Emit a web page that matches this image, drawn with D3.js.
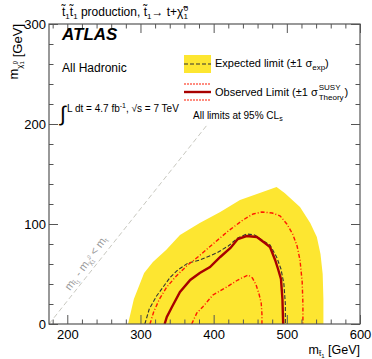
<!DOCTYPE html>
<meta charset="utf-8">
<head>
  <script src="https://d3js.org/d3.v7.min.js"></script>
  <style>
    body { margin: 0; background: #fff; }
    svg text { font-family: "Liberation Sans", Arial, sans-serif; }
    .tick line { stroke: #555; }
    .domain { display: none; }
  </style>
</head>
<body>
<div id="chart"></div>
<script>
  // stop mass / LSP mass points [m_stop, m_lsp] in GeV
  var expBand = [[283,0],[291,25],[305,51],[317,62],[335,74],[354,89],[381,101],[409,112],[436,124],[463,131],[486,137],[497,131],[518,117],[532,101],[541,87],[546,70],[549,50],[550,25],[550,0]];
  var expLine = [[306,0],[312,15],[322,28],[331,37],[341,47],[351,54],[365,61],[381,64],[404,71],[420,78],[433,86],[445,90],[456,89],[466,84],[477,79],[486,67],[492,55],[496,40],[498,20],[498,0]];
  var obsLine = [[333,0],[336,7],[343,17],[354,32],[368,44],[381,51],[395,57],[409,67],[423,76],[433,85],[445,88],[459,87],[470,81],[477,77],[484,64],[488,55],[492,45],[494,25],[495,0]];
  var obsMinus = [[370,0],[377,11],[385,17],[399,29],[418,37],[433,44],[447,49],[453,46],[458,39],[462,30],[465,21],[466,10],[466,0]];
  var obsPlus = [[313,0],[318,12],[326,25],[336,37],[349,48],[363,58],[380,68],[399,80],[420,93],[440,104],[454,110],[466,112],[480,111],[491,108],[500,100],[508,90],[514,78],[518,64],[521,42],[522,20],[522,0]];
  var kinLine = [[175,0],[391,199]];

  var xTicks = [200, 300, 400, 500, 600];
  var yTicks = [0, 100, 200, 300];
  var xMinor = d3.range(180, 601, 20).filter(function (v) { return v % 100 != 0; });
  var yMinor = d3.range(20, 300, 20).filter(function (v) { return v % 100 != 0; });

  var W = 372, H = 359;
  var margin = { top: 24, right: 12, bottom: 35, left: 49 };

  var svg = d3.select("#chart").append("svg")
    .attr("width", W).attr("height", H);

  var x = d3.scaleLinear().domain([175, 600]).range([margin.left, W - margin.right]);
  var y = d3.scaleLinear().domain([0, 300]).range([H - margin.bottom, margin.top]);

  svg.append("clipPath").attr("id", "frame")
    .append("rect")
    .attr("x", x(175)).attr("y", y(300))
    .attr("width", x(600) - x(175)).attr("height", y(0) - y(300));

  var line = d3.line().x(function (d) { return x(d[0]); }).y(function (d) { return y(d[1]); });

  var plot = svg.append("g").attr("clip-path", "url(#frame)");

  // expected +-1 sigma band
  plot.append("path").attr("d", line(expBand) + "Z").attr("fill", "#fde631");

  // kinematic limit
  plot.append("path").attr("d", line(kinLine))
    .attr("fill", "none").attr("stroke", "#c8c8c0").attr("stroke-width", 1)
    .attr("stroke-dasharray", "5,3");

  plot.append("path").attr("d", line(expLine))
    .attr("fill", "none").attr("stroke", "#333").attr("stroke-width", 1.1)
    .attr("stroke-dasharray", "4,2");

  [obsMinus, obsPlus].forEach(function (c) {
    plot.append("path").attr("d", line(c))
      .attr("fill", "none").attr("stroke", "#ff1a00").attr("stroke-width", 1.4)
      .attr("stroke-dasharray", "4,2,1,2");
  });

  plot.append("path").attr("d", line(obsLine))
    .attr("fill", "none").attr("stroke", "#a80000").attr("stroke-width", 2.4);

  // axes, ROOT style ticks inside the frame
  var fmt = d3.format("d");
  svg.append("g").attr("transform", "translate(0," + y(0) + ")")
    .call(d3.axisBottom(x).tickValues(xTicks).tickSize(-9).tickPadding(6).tickFormat(fmt));
  svg.append("g").attr("transform", "translate(0," + y(0) + ")")
    .call(d3.axisBottom(x).tickValues(xMinor).tickSize(-4.5).tickFormat(""));
  svg.append("g").attr("transform", "translate(0," + y(300) + ")")
    .call(d3.axisTop(x).tickValues(xTicks).tickSize(-9).tickFormat(""));
  svg.append("g").attr("transform", "translate(0," + y(300) + ")")
    .call(d3.axisTop(x).tickValues(xMinor).tickSize(-4.5).tickFormat(""));

  svg.append("g").attr("transform", "translate(" + x(175) + ",0)")
    .call(d3.axisLeft(y).tickValues(yTicks).tickSize(-9).tickPadding(3).tickFormat(fmt));
  svg.append("g").attr("transform", "translate(" + x(175) + ",0)")
    .call(d3.axisLeft(y).tickValues(yMinor).tickSize(-4.5).tickFormat(""));
  svg.append("g").attr("transform", "translate(" + x(600) + ",0)")
    .call(d3.axisRight(y).tickValues(yTicks).tickSize(-9).tickFormat(""));
  svg.append("g").attr("transform", "translate(" + x(600) + ",0)")
    .call(d3.axisRight(y).tickValues(yMinor).tickSize(-4.5).tickFormat(""));

  svg.selectAll(".tick text").attr("font-size", 13).attr("fill", "#000")
    .attr("font-family", "Liberation Sans, Arial, sans-serif");

  svg.append("rect")
    .attr("x", x(175)).attr("y", y(300))
    .attr("width", x(600) - x(175)).attr("height", y(0) - y(300))
    .attr("fill", "none").attr("stroke", "#555").attr("stroke-width", 1.2);

  // axis titles
  var xt = svg.append("text").attr("x", x(600)).attr("y", 354)
    .attr("text-anchor", "end").attr("font-size", 12.5);
  xt.append("tspan").text("m");
  xt.append("tspan").attr("font-size", 8).attr("dy", 2).text("t\u0303");
  xt.append("tspan").attr("font-size", 6).attr("dy", 1.5).text("1");
  xt.append("tspan").attr("dy", -3.5).text(" [GeV]");

  var yt = svg.append("text").attr("transform", "translate(18," + y(300) + ") rotate(-90)")
    .attr("text-anchor", "end").attr("font-size", 13);
  yt.append("tspan").text("m");
  yt.append("tspan").attr("font-size", 8).attr("dy", 4).text("\u03c7\u0303");
  yt.append("tspan").attr("font-size", 6).attr("dy", 2).text("1");
  yt.append("tspan").attr("font-size", 6).attr("dy", -7).attr("dx", -3).text("0");
  yt.append("tspan").attr("dy", 5).text(" [GeV]");

  // title
  var tt = svg.append("text").attr("x", 62).attr("y", 16).attr("font-size", 12);
  tt.append("tspan").text("t\u0303");
  tt.append("tspan").attr("font-size", 8).attr("dy", 3).text("1");
  tt.append("tspan").attr("dy", -3).text("t\u0303");
  tt.append("tspan").attr("font-size", 8).attr("dy", 3).text("1");
  tt.append("tspan").attr("dy", -3).text(" production, t\u0303");
  tt.append("tspan").attr("font-size", 8).attr("dy", 3).text("1");
  tt.append("tspan").attr("dy", -3).text("\u2192 t+\u03c7\u0303");
  tt.append("tspan").attr("font-size", 8).attr("dy", 3).text("1");
  tt.append("tspan").attr("font-size", 8).attr("dy", -8).attr("dx", -4).text("0");

  svg.append("text").attr("x", 62).attr("y", 40)
    .attr("font-size", 17).attr("font-weight", "bold").attr("font-style", "italic")
    .text("ATLAS");
  svg.append("text").attr("x", 62).attr("y", 72).attr("font-size", 12).text("All Hadronic");

  // lumi
  svg.append("text").attr("x", 60).attr("y", 121).attr("font-size", 21).text("\u222b");
  var lt = svg.append("text").attr("x", 67).attr("y", 112).attr("font-size", 10);
  lt.append("tspan").text("L dt = 4.7 fb");
  lt.append("tspan").attr("font-size", 7).attr("dy", -4).text("-1");
  lt.append("tspan").attr("dy", 4).text(", \u221as = 7 TeV");

  var cl = svg.append("text").attr("x", 193).attr("y", 119).attr("font-size", 10);
  cl.append("tspan").text("All limits at 95% CL");
  cl.append("tspan").attr("font-size", 7).attr("dy", 2).text("s");

  // legend
  svg.append("rect").attr("x", 184).attr("y", 55).attr("width", 27).attr("height", 18).attr("fill", "#fde631");
  svg.append("line").attr("x1", 184).attr("x2", 211).attr("y1", 64).attr("y2", 64)
    .attr("stroke", "#333").attr("stroke-width", 1.1).attr("stroke-dasharray", "4,2");
  var e1 = svg.append("text").attr("x", 215).attr("y", 67).attr("font-size", 11);
  e1.append("tspan").text("Expected limit (\u00b11 \u03c3");
  e1.append("tspan").attr("font-size", 8).attr("dy", 3).text("exp");
  e1.append("tspan").attr("dy", -3).text(")");

  [84, 100].forEach(function (yy) {
    svg.append("line").attr("x1", 184).attr("x2", 211).attr("y1", yy).attr("y2", yy)
      .attr("stroke", "#ff1a00").attr("stroke-width", 1.2).attr("stroke-dasharray", "2,1");
  });
  svg.append("line").attr("x1", 184).attr("x2", 211).attr("y1", 92).attr("y2", 92)
    .attr("stroke", "#a80000").attr("stroke-width", 2.4);
  var ob = svg.append("text").attr("x", 215).attr("y", 96).attr("font-size", 11)
    .text("Observed Limit (\u00b11 \u03c3");
  var obEnd = 215 + ob.node().getComputedTextLength() + 1;
  svg.append("text").attr("x", obEnd).attr("y", 90).attr("font-size", 8).text("SUSY");
  var th = svg.append("text").attr("x", obEnd).attr("y", 100).attr("font-size", 8).text("Theory");
  svg.append("text").attr("x", obEnd + th.node().getComputedTextLength() + 1).attr("y", 96)
    .attr("font-size", 11).text(")");

  // kinematic label
  var kl = svg.append("text").attr("transform", "translate(70,291) rotate(-54)")
    .attr("font-size", 11).attr("fill", "#9a9a9a");
  kl.append("tspan").text("m");
  kl.append("tspan").attr("font-size", 7).attr("dy", 2).text("t\u0303");
  kl.append("tspan").attr("font-size", 5).attr("dy", 1).text("1");
  kl.append("tspan").attr("dy", -3).text(" - m");
  kl.append("tspan").attr("font-size", 7).attr("dy", 2).text("\u03c7\u0303");
  kl.append("tspan").attr("font-size", 5).attr("dy", 1).text("1");
  kl.append("tspan").attr("font-size", 5).attr("dy", -6).attr("dx", -2).text("0");
  kl.append("tspan").attr("dy", 3).text(" < m");
  kl.append("tspan").attr("font-size", 7).attr("dy", 2).text("t");
</script>
</body>
